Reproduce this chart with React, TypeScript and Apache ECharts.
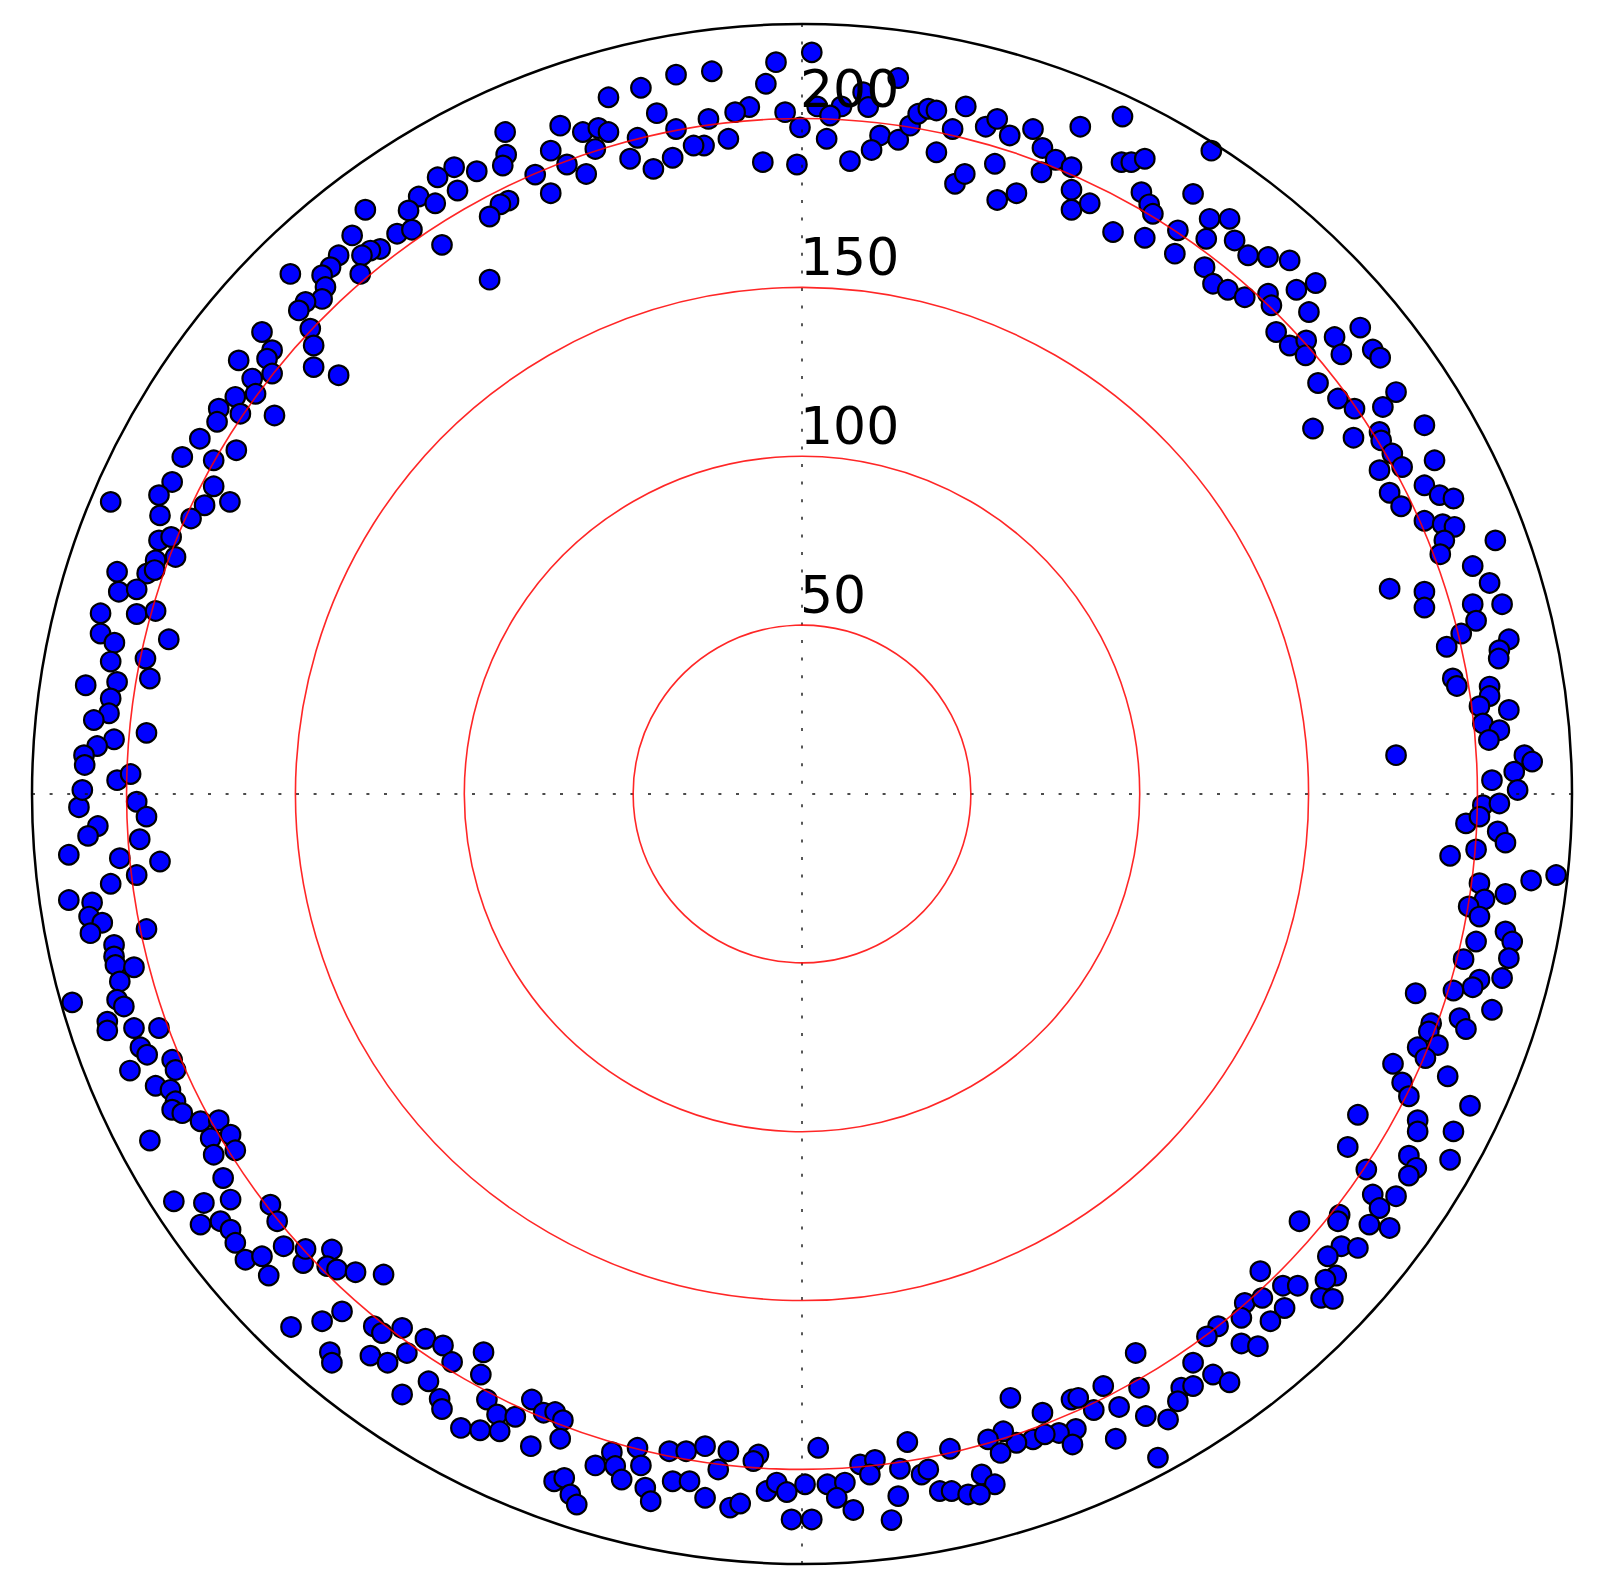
import React, { useEffect, useRef } from "react";
import * as echarts from "echarts";

// Radial axis range and the labelled rings
const radiusMax = 228;
const radialTickLabels = [50, 100, 150, 200];

// Scatter points as [x, y] in data units (radius units), grouped by region of the ring
const northWestOuter: number[][] = [
  [-129.3, 173.0], [-133.2, 165.4], [-119.9, 165.9], [-124.9, 161.4], [-127.8, 160.9], [-130.3, 159.5],
  [-130.8, 154.0], [-137.2, 159.5], [-139.6, 156.0], [-142.1, 153.6], [-151.5, 154.0], [-141.1, 150.1],
  [-142.1, 146.6], [-147.0, 145.7], [-149.0, 143.2], [-145.6, 137.8], [-159.9, 136.8], [-144.6, 132.8],
  [-156.9, 131.4], [-158.4, 128.9], [-166.8, 128.4], [-144.6, 126.4], [-137.2, 124.0], [-156.9, 124.5],
  [-162.8, 123.0], [-161.8, 118.5], [-167.8, 117.6],
];
const northWestTop: number[][] = [
  [-7.7, 216.7], [-10.7, 210.3], [-26.7, 214.0], [-37.3, 213.0], [-47.7, 209.1], [-57.3, 206.3],
  [-43.0, 201.6], [-15.6, 203.4], [-19.8, 201.9], [-27.7, 199.9], [-5.0, 201.9], [-0.6, 197.4],
  [-37.3, 196.9], [-21.8, 194.0], [-29.0, 192.0], [-32.1, 192.0], [-48.7, 194.3], [-50.9, 188.1],
  [-38.3, 188.4], [-44.0, 185.1], [-11.6, 187.1], [-1.5, 186.4], [-71.6, 197.9], [-64.9, 196.0],
  [-60.3, 197.2], [-57.3, 196.0], [-61.2, 191.0], [-74.4, 190.5], [-69.6, 186.4], [-79.0, 183.4],
  [-63.9, 183.6], [-74.4, 177.9], [-87.9, 196.0], [-87.6, 189.3], [-88.6, 186.1], [-96.3, 184.4],
  [-103.0, 185.6], [-107.9, 182.6], [-102.0, 178.7], [-86.9, 175.7], [-89.3, 174.6], [-92.5, 171.0],
  [-113.5, 176.9], [-108.6, 174.9], [-116.5, 172.8], [-115.5, 167.1], [-106.6, 162.6], [-92.5, 152.3],
];
const northEastTop: number[][] = [
  [2.9, 219.6], [28.5, 212.0], [18.1, 207.8], [4.5, 203.6], [11.7, 203.6], [19.6, 203.4],
  [8.3, 200.9], [7.3, 194.0], [23.1, 195.0], [20.6, 190.7], [14.2, 187.4], [28.5, 193.7],
  [32.0, 197.9], [34.4, 201.4], [37.4, 202.9], [39.8, 202.4], [39.8, 190.0], [44.6, 196.9],
  [48.5, 203.6], [45.3, 180.7], [48.2, 183.6], [54.4, 197.6], [57.8, 199.9], [61.5, 195.0],
  [57.1, 186.6], [57.8, 175.9], [63.5, 177.9], [68.4, 196.9], [71.2, 191.3], [75.1, 187.8],
  [70.9, 184.1], [79.8, 185.6], [79.8, 178.9], [79.8, 173.0], [85.2, 174.9], [82.4, 197.6],
  [94.9, 200.6], [94.6, 187.1], [97.5, 187.1], [101.5, 188.1], [100.5, 178.2], [102.8, 174.6],
  [103.9, 171.8], [92.1, 166.4], [101.5, 164.7], [111.3, 166.9], [110.4, 160.0], [115.8, 177.7],
];
const northEastOuter: number[][] = [
  [121.2, 190.5], [120.7, 170.3], [126.6, 170.3], [119.7, 164.4], [128.1, 163.9], [132.1, 159.5],
  [138.0, 159.0], [144.4, 158.0], [119.2, 156.0], [121.7, 151.1], [126.1, 149.3], [131.1, 147.1],
  [138.0, 148.1], [139.0, 144.7], [146.4, 149.3], [152.1, 151.3], [150.1, 142.7], [140.4, 136.8],
  [144.4, 132.8], [149.3, 134.3], [149.1, 129.9], [157.7, 135.3], [159.7, 130.2], [165.3, 138.1],
  [169.0, 131.6], [171.2, 129.2], [152.8, 121.7], [158.7, 117.1], [175.9, 119.0],
];
const eastUpper: number[][] = [
  [163.6, 114.1], [172.0, 114.6], [151.3, 108.2], [163.3, 105.5], [171.0, 107.2], [171.5, 104.7],
  [184.3, 109.2], [174.8, 100.8], [171.0, 95.9], [177.7, 96.8], [187.3, 98.8], [174.0, 89.2],
  [177.4, 85.2], [184.3, 91.4], [188.8, 88.5], [192.9, 87.5], [184.3, 80.9], [189.7, 79.9],
  [193.2, 79.1], [190.2, 75.1], [189.0, 71.0], [205.3, 75.1], [198.6, 67.5], [203.6, 62.5],
  [174.0, 60.8], [184.3, 59.9], [184.3, 55.2], [198.6, 56.2], [207.3, 56.2], [199.6, 51.3],
  [195.2, 47.5], [190.9, 43.6], [209.3, 45.8], [206.5, 42.6], [206.3, 40.1], [192.7, 34.2],
  [193.9, 32.0], [203.6, 31.8], [203.6, 29.0], [200.6, 26.0], [209.3, 24.9], [201.6, 20.9],
  [206.5, 18.9], [203.4, 16.0], [175.9, 11.5], [213.9, 11.5], [216.2, 9.6], [210.9, 6.6],
  [204.3, 4.1], [211.9, 1.2],
];
const eastLower: number[][] = [
  [201.6, -3.3], [206.5, -2.8], [196.6, -8.7], [200.6, -6.7], [206.0, -11.1], [208.3, -14.4],
  [199.6, -16.4], [191.9, -18.3], [200.6, -26.4], [202.1, -31.2], [197.4, -33.3], [200.6, -36.3],
  [208.3, -29.6], [215.9, -25.6], [223.3, -24.0], [208.3, -40.7], [210.3, -43.7], [209.3, -48.6],
  [207.3, -54.5], [199.6, -43.7], [195.9, -48.9], [200.6, -55.0], [198.6, -57.2], [192.9, -58.2],
  [181.7, -59.0], [204.3, -63.9], [194.7, -66.4], [196.6, -69.6], [186.3, -67.9], [185.6, -70.3],
  [188.3, -74.3], [182.3, -75.0], [184.6, -78.2], [175.0, -79.9], [177.7, -85.4], [179.7, -89.5],
  [191.2, -83.6], [197.8, -92.3], [164.6, -95.0], [182.3, -96.6], [182.3, -99.9], [192.9, -99.9],
  [161.6, -104.5], [179.7, -107.1], [181.9, -110.7], [179.7, -113.0], [191.9, -108.3], [167.1, -111.2],
  [169.0, -118.6], [175.9, -119.1],
];
const southEastOuter: number[][] = [
  [171.0, -122.6], [147.3, -126.5], [159.2, -124.6], [158.7, -126.5], [168.0, -127.5], [174.0, -128.5],
  [159.7, -133.9], [164.6, -134.4], [155.7, -136.9], [158.2, -142.6], [155.0, -143.8], [153.7, -149.2],
  [157.2, -149.5], [135.7, -141.3], [142.4, -145.6], [146.8, -145.6], [131.1, -150.7], [136.3, -149.2],
  [142.9, -152.2], [130.1, -155.1], [138.7, -156.1], [123.2, -157.6], [119.9, -160.6], [130.1, -162.7],
  [135.0, -163.5], [121.7, -171.9], [126.6, -174.2],
];
const southEastBottom: number[][] = [
  [98.8, -165.5], [115.8, -168.4], [112.3, -175.8], [115.8, -175.3], [111.3, -179.8], [108.4, -185.2],
  [99.8, -175.8], [101.8, -184.2], [93.9, -181.5], [89.2, -175.3], [86.4, -182.4], [92.9, -190.9],
  [105.4, -196.5], [79.8, -179.3], [81.8, -178.8], [71.2, -183.2], [81.1, -188.0], [76.1, -189.2],
  [80.1, -192.6], [68.4, -191.1], [71.9, -189.6], [63.5, -192.1], [61.7, -178.8], [59.6, -188.7],
  [55.1, -191.1], [58.8, -195.1], [53.2, -201.5], [57.1, -204.4], [43.8, -193.9], [31.2, -191.9],
  [4.8, -193.6], [17.2, -198.5], [21.6, -197.2], [20.1, -201.5], [29.0, -199.8], [35.4, -201.5],
  [37.4, -200.0], [40.8, -206.4], [44.3, -206.4], [49.2, -207.4], [52.7, -207.4], [28.5, -207.9],
  [26.5, -215.0], [0.9, -204.4], [7.5, -204.4], [12.7, -203.9], [10.3, -208.4], [15.2, -212.0],
  [2.9, -214.8],
];
const southWestBottom: number[][] = [
  [-118.4, -158.1], [-117.0, -165.5], [-111.5, -161.3], [-106.3, -163.3], [-103.6, -168.2], [-94.3, -165.3],
  [-95.1, -171.9], [-118.4, -177.8], [-110.6, -173.9], [-107.3, -179.1], [-106.6, -182.1], [-93.3, -179.3],
  [-90.3, -183.7], [-84.9, -184.4], [-80.0, -179.3], [-76.5, -183.2], [-73.1, -183.0], [-70.8, -185.4],
  [-101.0, -187.7], [-95.3, -188.4], [-89.5, -188.7], [-80.3, -193.1], [-71.6, -190.9], [-73.4, -203.5],
  [-70.4, -202.5], [-68.6, -207.4], [-66.7, -210.4], [-56.3, -194.9], [-61.2, -198.8], [-55.3, -199.0],
  [-53.4, -203.0], [-48.7, -193.6], [-47.7, -198.8], [-46.4, -205.4], [-44.8, -209.4], [-39.3, -194.6],
  [-34.3, -194.6], [-28.7, -193.1], [-21.8, -194.6], [-24.8, -200.0], [-38.3, -203.5], [-33.3, -203.5],
  [-28.7, -208.4], [-21.3, -211.3], [-18.3, -210.1], [-12.9, -195.6], [-14.4, -197.5], [-10.5, -206.4],
  [-7.5, -203.9], [-4.5, -206.7], [-3.1, -214.8],
];
const southWestOuter: number[][] = [
  [-186.0, -120.6], [-177.1, -121.1], [-169.2, -120.1], [-157.4, -121.6], [-155.4, -126.5], [-178.1, -127.5],
  [-172.2, -126.5], [-169.2, -129.0], [-167.8, -132.9], [-164.8, -137.9], [-159.9, -136.9], [-157.9, -142.6],
  [-153.5, -133.9], [-147.7, -138.9], [-147.0, -134.7], [-139.2, -134.9], [-140.6, -139.8], [-137.7, -140.8],
  [-132.2, -141.6], [-123.9, -142.3], [-151.3, -157.8], [-142.1, -156.1], [-136.2, -153.2], [-126.8, -157.6],
  [-124.4, -159.6], [-139.8, -165.3], [-139.2, -168.4], [-127.8, -166.3], [-122.7, -168.4],
];
const westLower: number[][] = [
  [-214.1, -3.9], [-197.0, -2.3], [-194.1, -6.7], [-208.5, -9.5], [-211.4, -12.4], [-196.1, -13.4],
  [-217.1, -18.0], [-202.0, -19.0], [-197.0, -24.0], [-190.1, -20.0], [-204.7, -26.6], [-217.1, -31.4],
  [-210.2, -32.1], [-211.1, -36.3], [-207.2, -38.1], [-210.7, -41.2], [-194.1, -40.0], [-203.7, -44.7],
  [-203.7, -48.1], [-203.3, -50.6], [-197.8, -51.3], [-202.0, -55.5], [-216.1, -61.7], [-202.8, -60.9],
  [-200.8, -62.9], [-205.7, -67.4], [-205.7, -70.0], [-197.8, -69.3], [-190.4, -69.3], [-195.9, -75.0],
  [-193.9, -77.2], [-199.0, -81.9], [-186.5, -78.7], [-185.5, -81.7], [-191.4, -86.4], [-187.0, -87.6],
  [-185.5, -91.0], [-186.5, -93.5], [-183.5, -94.5], [-178.1, -96.9], [-172.7, -96.6], [-169.2, -100.9],
  [-175.1, -101.9], [-174.2, -106.8], [-167.8, -105.5], [-193.1, -102.6], [-171.4, -113.7],
];
const westUpper: number[][] = [
  [-172.7, 114.1], [-173.2, 110.2], [-166.3, 112.6], [-156.2, 112.1], [-178.3, 105.2], [-183.5, 99.8],
  [-167.5, 101.8], [-174.2, 98.8], [-186.5, 92.4], [-190.4, 88.5], [-190.1, 82.5], [-174.2, 91.1],
  [-176.9, 85.5], [-169.4, 86.5], [-180.9, 81.6], [-204.7, 86.5], [-190.4, 75.1], [-186.8, 76.1],
  [-185.5, 70.2], [-191.4, 69.2], [-193.9, 65.3], [-191.7, 66.3], [-202.8, 65.8], [-202.3, 59.9],
  [-197.0, 60.6], [-207.7, 53.5], [-197.0, 53.3], [-191.4, 54.2], [-207.7, 47.5], [-203.6, 44.8],
  [-187.5, 45.8], [-194.4, 40.1], [-193.1, 34.2], [-204.7, 39.2], [-202.8, 33.2], [-212.1, 32.2],
  [-204.7, 28.3], [-205.2, 23.9], [-209.7, 21.9], [-194.1, 18.1], [-203.7, 16.2], [-208.7, 14.2],
  [-212.6, 11.5], [-212.4, 8.6], [-202.8, 4.1], [-198.8, 5.9], [-213.1, 1.2],
];

export default function App() {
  const ref = useRef<HTMLDivElement>(null);

  useEffect(() => {
    if (!ref.current) return;
    const chart = echarts.init(ref.current, null, { renderer: "svg" });

    const allPoints = [
      ...northWestOuter, ...northWestTop, ...northEastTop, ...northEastOuter,
      ...eastUpper, ...eastLower, ...southEastOuter, ...southEastBottom,
      ...southWestBottom, ...southWestOuter, ...westLower, ...westUpper,
    ];
    // Convert to [radius, angle]; angle axis starts at north (90°) and runs counter-clockwise,
    // so the math angle (0° = east) is shifted by -90°.
    const polarData = allPoints.map(([x, y]) => {
      const r = Math.hypot(x, y);
      let a = (Math.atan2(y, x) * 180) / Math.PI - 90;
      a = ((a % 360) + 360) % 360;
      return [r, a];
    });

    chart.setOption({
      animation: false,
      backgroundColor: "#ffffff",
      polar: { center: [802, 794], radius: 770 },
      angleAxis: {
        type: "value",
        min: 0,
        max: 360,
        interval: 90,
        startAngle: 90,
        clockwise: false,
        z: 5,
        axisLine: { show: true, lineStyle: { color: "#000", width: 2.5 } },
        axisTick: { show: false },
        axisLabel: { show: false },
        splitLine: {
          show: true,
          lineStyle: { color: "#111", width: 1.4, type: [3, 14.6] },
        },
      },
      radiusAxis: {
        type: "value",
        min: 0,
        max: radiusMax,
        interval: 50,
        z: 6,
        axisLine: { show: false },
        axisTick: { show: false },
        axisLabel: {
          inside: true,
          margin: 2,
          fontSize: 52,
          fontFamily: "DejaVu Sans",
          color: "#000",
          align: "left",
          verticalAlign: "bottom",
          padding: [0, 0, 4, 0],
          formatter: (v: number) => (radialTickLabels.includes(v) ? String(v) : ""),
        },
        splitLine: {
          show: true,
          lineStyle: {
            color: ["#ff0000", "#ff0000", "#ff0000", "#ff0000", "#ff0000", "rgba(0,0,0,0)"],
            width: 1.6,
            opacity: 0.85,
          },
        },
      },
      series: [
        {
          type: "scatter",
          coordinateSystem: "polar",
          z: 1,
          symbol: "circle",
          symbolSize: 19.5,
          itemStyle: { color: "#0000ff", borderColor: "#000", borderWidth: 2.2, opacity: 1 },
          emphasis: { disabled: true },
          data: polarData,
        },
      ],
    });

    return () => chart.dispose();
  }, []);

  return (
    <div
      ref={ref}
      style={{ position: "absolute", left: 0, top: 0, width: 1606, height: 1582, background: "#fff" }}
    />
  );
}
